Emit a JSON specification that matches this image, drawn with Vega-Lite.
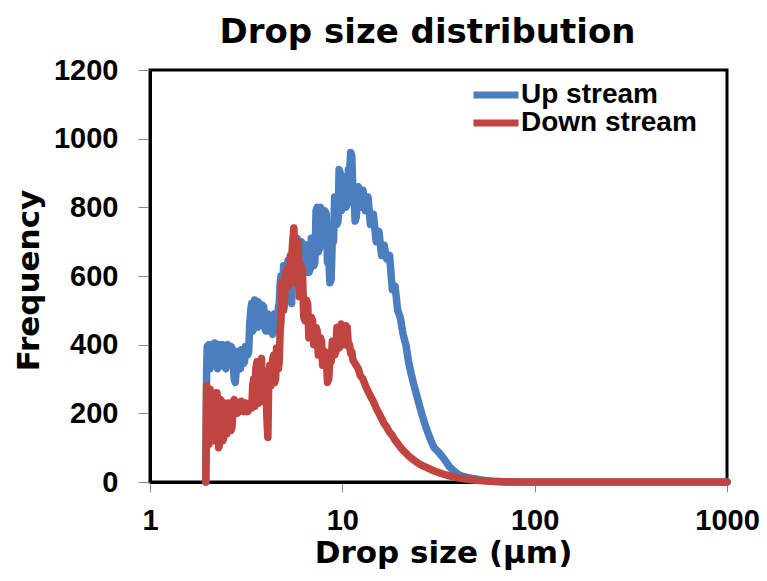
{
  "$schema": "https://vega.github.io/schema/vega-lite/v6.json",
  "width": 577,
  "height": 412,
  "autosize": {"type": "none"},
  "padding": {"left": 150, "top": 70, "right": 40, "bottom": 99},
  "background": "white",
  "config": {
    "view": {"stroke": "black", "strokeWidth": 3},
    "axis": {"grid": false}
  },
  "title": {
    "text": "Drop size distribution",
    "font": "DejaVu Sans",
    "fontWeight": "bold",
    "fontSize": 34,
    "color": "black",
    "anchor": "middle",
    "dx": -11,
    "offset": 6
  },
  "data": {
    "values": [
      {"x": 1.95, "up": 0, "down": 0},
      {"x": 1.97, "up": 330, "down": 280},
      {"x": 1.985, "up": 395, "down": 170},
      {"x": 2.0, "up": 360, "down": 260},
      {"x": 2.025, "up": 400, "down": 110},
      {"x": 2.05, "up": 330, "down": 270},
      {"x": 2.075, "up": 390, "down": 150},
      {"x": 2.1, "up": 400, "down": 120},
      {"x": 2.125, "up": 340, "down": 260},
      {"x": 2.15, "up": 350, "down": 250},
      {"x": 2.175, "up": 405, "down": 120},
      {"x": 2.2, "up": 395, "down": 150},
      {"x": 2.225, "up": 340, "down": 260},
      {"x": 2.25, "up": 330, "down": 240},
      {"x": 2.275, "up": 395, "down": 100},
      {"x": 2.3, "up": 400, "down": 110},
      {"x": 2.33, "up": 345, "down": 240},
      {"x": 2.36, "up": 340, "down": 230},
      {"x": 2.39, "up": 400, "down": 120},
      {"x": 2.42, "up": 395, "down": 130},
      {"x": 2.45, "up": 335, "down": 230},
      {"x": 2.48, "up": 330, "down": 220},
      {"x": 2.51, "up": 395, "down": 140},
      {"x": 2.54, "up": 400, "down": 150},
      {"x": 2.57, "up": 345, "down": 230},
      {"x": 2.6, "up": 350, "down": 210},
      {"x": 2.635, "up": 395, "down": 150},
      {"x": 2.67, "up": 390, "down": 160},
      {"x": 2.705, "up": 350, "down": 230},
      {"x": 2.74, "up": 300, "down": 240},
      {"x": 2.775, "up": 290, "down": 205},
      {"x": 2.81, "up": 330, "down": 215},
      {"x": 2.845, "up": 380, "down": 200},
      {"x": 2.88, "up": 370, "down": 230},
      {"x": 2.915, "up": 340, "down": 205},
      {"x": 2.95, "up": 330, "down": 210},
      {"x": 2.985, "up": 385, "down": 235},
      {"x": 3.02, "up": 380, "down": 230},
      {"x": 3.06, "up": 345, "down": 205},
      {"x": 3.1, "up": 350, "down": 215},
      {"x": 3.14, "up": 395, "down": 230},
      {"x": 3.18, "up": 390, "down": 225},
      {"x": 3.22, "up": 370, "down": 205},
      {"x": 3.26, "up": 380, "down": 210},
      {"x": 3.3, "up": 460, "down": 225},
      {"x": 3.34, "up": 500, "down": 230},
      {"x": 3.38, "up": 520, "down": 215},
      {"x": 3.42, "up": 440, "down": 280},
      {"x": 3.46, "up": 510, "down": 300},
      {"x": 3.5, "up": 530, "down": 220},
      {"x": 3.55, "up": 470, "down": 330},
      {"x": 3.6, "up": 450, "down": 350},
      {"x": 3.65, "up": 525, "down": 240},
      {"x": 3.7, "up": 520, "down": 230},
      {"x": 3.75, "up": 455, "down": 350},
      {"x": 3.8, "up": 460, "down": 360},
      {"x": 3.85, "up": 515, "down": 240},
      {"x": 3.9, "up": 510, "down": 250},
      {"x": 3.95, "up": 450, "down": 320},
      {"x": 4.0, "up": 440, "down": 300},
      {"x": 4.05, "up": 480, "down": 190},
      {"x": 4.1, "up": 490, "down": 130},
      {"x": 4.15, "up": 440, "down": 320},
      {"x": 4.2, "up": 450, "down": 340},
      {"x": 4.25, "up": 480, "down": 280},
      {"x": 4.3, "up": 470, "down": 290},
      {"x": 4.35, "up": 430, "down": 360},
      {"x": 4.4, "up": 440, "down": 370},
      {"x": 4.45, "up": 490, "down": 290},
      {"x": 4.5, "up": 480, "down": 300},
      {"x": 4.55, "up": 440, "down": 390},
      {"x": 4.6, "up": 450, "down": 380},
      {"x": 4.65, "up": 510, "down": 330},
      {"x": 4.7, "up": 520, "down": 350},
      {"x": 4.75, "up": 580, "down": 440},
      {"x": 4.8, "up": 600, "down": 470},
      {"x": 4.85, "up": 550, "down": 580},
      {"x": 4.9, "up": 560, "down": 560},
      {"x": 4.95, "up": 630, "down": 500},
      {"x": 5.0, "up": 620, "down": 520},
      {"x": 5.07, "up": 555, "down": 610},
      {"x": 5.15, "up": 560, "down": 620},
      {"x": 5.22, "up": 645, "down": 570},
      {"x": 5.3, "up": 640, "down": 580},
      {"x": 5.37, "up": 530, "down": 660},
      {"x": 5.45, "up": 520, "down": 650},
      {"x": 5.52, "up": 650, "down": 700},
      {"x": 5.6, "up": 640, "down": 740},
      {"x": 5.67, "up": 590, "down": 600},
      {"x": 5.75, "up": 600, "down": 580},
      {"x": 5.82, "up": 710, "down": 690},
      {"x": 5.9, "up": 700, "down": 700},
      {"x": 5.97, "up": 620, "down": 540},
      {"x": 6.05, "up": 630, "down": 550},
      {"x": 6.12, "up": 700, "down": 630},
      {"x": 6.2, "up": 690, "down": 620},
      {"x": 6.3, "up": 610, "down": 480},
      {"x": 6.4, "up": 620, "down": 470},
      {"x": 6.5, "up": 690, "down": 530},
      {"x": 6.6, "up": 680, "down": 520},
      {"x": 6.7, "up": 610, "down": 420},
      {"x": 6.8, "up": 620, "down": 430},
      {"x": 6.9, "up": 710, "down": 480},
      {"x": 7.0, "up": 700, "down": 470},
      {"x": 7.1, "up": 630, "down": 400},
      {"x": 7.2, "up": 640, "down": 410},
      {"x": 7.3, "up": 790, "down": 450},
      {"x": 7.4, "up": 800, "down": 440},
      {"x": 7.5, "up": 670, "down": 370},
      {"x": 7.6, "up": 680, "down": 380},
      {"x": 7.7, "up": 800, "down": 420},
      {"x": 7.8, "up": 790, "down": 410},
      {"x": 7.9, "up": 690, "down": 340},
      {"x": 8.0, "up": 700, "down": 350},
      {"x": 8.12, "up": 790, "down": 380},
      {"x": 8.25, "up": 780, "down": 370},
      {"x": 8.37, "up": 640, "down": 290},
      {"x": 8.5, "up": 650, "down": 300},
      {"x": 8.62, "up": 580, "down": 360},
      {"x": 8.75, "up": 590, "down": 350},
      {"x": 8.87, "up": 710, "down": 410},
      {"x": 9.0, "up": 700, "down": 400},
      {"x": 9.12, "up": 830, "down": 370},
      {"x": 9.25, "up": 820, "down": 380},
      {"x": 9.37, "up": 750, "down": 450},
      {"x": 9.5, "up": 760, "down": 440},
      {"x": 9.62, "up": 910, "down": 390},
      {"x": 9.75, "up": 900, "down": 400},
      {"x": 9.87, "up": 790, "down": 460},
      {"x": 10.0, "up": 800, "down": 450},
      {"x": 10.15, "up": 890, "down": 400},
      {"x": 10.3, "up": 880, "down": 410},
      {"x": 10.45, "up": 800, "down": 455},
      {"x": 10.6, "up": 810, "down": 450},
      {"x": 10.75, "up": 910, "down": 395},
      {"x": 10.9, "up": 900, "down": 400},
      {"x": 11.05, "up": 960, "down": 375},
      {"x": 11.2, "up": 950, "down": 380},
      {"x": 11.35, "up": 840, "down": 355},
      {"x": 11.5, "up": 850, "down": 350},
      {"x": 11.65, "up": 760, "down": 345},
      {"x": 11.8, "up": 770, "down": 340},
      {"x": 12.1, "up": 860, "down": 330},
      {"x": 12.4, "up": 800, "down": 310},
      {"x": 12.8, "up": 850, "down": 300},
      {"x": 13.2, "up": 790, "down": 280},
      {"x": 13.6, "up": 830, "down": 265},
      {"x": 14.0, "up": 750, "down": 250},
      {"x": 14.5, "up": 780, "down": 235},
      {"x": 15.0, "up": 700, "down": 215},
      {"x": 15.5, "up": 730, "down": 200},
      {"x": 16.0, "up": 660, "down": 185},
      {"x": 16.5, "up": 690, "down": 170},
      {"x": 17.0, "up": 650, "down": 160},
      {"x": 17.6, "up": 660, "down": 145},
      {"x": 18.2, "up": 560, "down": 135},
      {"x": 18.8, "up": 570, "down": 122},
      {"x": 19.4, "up": 500, "down": 112},
      {"x": 20.0, "up": 480, "down": 102},
      {"x": 20.7, "up": 430, "down": 92},
      {"x": 21.4, "up": 400, "down": 84},
      {"x": 22.1, "up": 350, "down": 76},
      {"x": 22.8, "up": 315, "down": 70},
      {"x": 23.5, "up": 285, "down": 64},
      {"x": 24.3, "up": 255, "down": 58},
      {"x": 25.1, "up": 225, "down": 53},
      {"x": 26.0, "up": 195, "down": 48},
      {"x": 27.0, "up": 165, "down": 44},
      {"x": 28.0, "up": 140, "down": 40},
      {"x": 29.0, "up": 118, "down": 36},
      {"x": 30.0, "up": 100, "down": 32},
      {"x": 31.5, "up": 88, "down": 28},
      {"x": 33.0, "up": 75, "down": 24},
      {"x": 34.5, "up": 60, "down": 21},
      {"x": 36.0, "up": 45, "down": 18},
      {"x": 38.0, "up": 32, "down": 15},
      {"x": 40.0, "up": 22, "down": 12},
      {"x": 42.0, "up": 17, "down": 10},
      {"x": 45.0, "up": 13, "down": 8},
      {"x": 48.0, "up": 10, "down": 6},
      {"x": 52.0, "up": 7, "down": 4},
      {"x": 56.0, "up": 4, "down": 3},
      {"x": 60.0, "up": 2, "down": 2},
      {"x": 70, "up": 0, "down": 1},
      {"x": 80, "up": 0, "down": 0},
      {"x": 100, "up": 0, "down": 0},
      {"x": 200, "up": 0, "down": 0},
      {"x": 500, "up": 0, "down": 0},
      {"x": 1000, "up": 0, "down": 0}
    ]
  },
  "transform": [
    {"fold": ["up", "down"], "as": ["key", "freq"]},
    {"calculate": "datum.key === 'up' ? 'Up stream' : 'Down stream'", "as": "series"}
  ],
  "encoding": {
    "x": {
      "field": "x",
      "type": "quantitative",
      "scale": {"type": "log", "domain": [1, 1000]},
      "axis": {
        "values": [1, 10, 100, 1000],
        "format": "d",
        "title": "Drop size (μm)",
        "titleFont": "DejaVu Sans",
        "titleFontWeight": "bold",
        "titleFontSize": 31,
        "titleColor": "black",
        "titleX": 293,
        "titleY": 80,
        "titleBaseline": "alphabetic",
        "titleAnchor": "middle",
        "labelFont": "Liberation Sans",
        "labelFontWeight": "bold",
        "labelFontSize": 29,
        "labelColor": "black",
        "labelPadding": 14,
        "labelFlush": false,
        "tickSize": 10,
        "tickColor": "#888888",
        "tickWidth": 1,
        "domainColor": "black",
        "domainWidth": 3
      }
    },
    "y": {
      "field": "freq",
      "type": "quantitative",
      "scale": {"domain": [0, 1200]},
      "axis": {
        "values": [0, 200, 400, 600, 800, 1000, 1200],
        "format": "d",
        "title": "Frequency",
        "titleFont": "DejaVu Sans",
        "titleFontWeight": "bold",
        "titleFontSize": 31,
        "titleColor": "black",
        "titleX": -121,
        "titleY": 210,
        "titleBaseline": "middle",
        "titleAnchor": "middle",
        "labelFont": "Liberation Sans",
        "labelFontWeight": "bold",
        "labelFontSize": 29,
        "labelColor": "black",
        "labelPadding": 20,
        "tickSize": 12,
        "tickColor": "#888888",
        "tickWidth": 1,
        "domainColor": "black",
        "domainWidth": 3
      }
    },
    "color": {
      "field": "series",
      "type": "nominal",
      "scale": {"domain": ["Up stream", "Down stream"], "range": ["#4A7EBF", "#C0443F"]},
      "legend": {
        "title": null,
        "orient": "none",
        "legendX": 332,
        "legendY": 11,
        "symbolType": "M-3,0H3",
        "symbolSize": 225,
        "symbolStrokeWidth": 7,
        "labelFont": "Liberation Sans",
        "labelFontWeight": "bold",
        "labelFontSize": 28,
        "labelColor": "black",
        "labelOffset": 11,
        "rowPadding": 0,
        "labelLimit": 400
      }
    }
  },
  "layer": [
    {
      "transform": [{"filter": "datum.key === 'up'"}],
      "mark": {"type": "line", "strokeWidth": 7.5, "strokeJoin": "round", "strokeCap": "round"}
    },
    {
      "transform": [{"filter": "datum.key === 'down'"}],
      "mark": {"type": "line", "strokeWidth": 7.5, "strokeJoin": "round", "strokeCap": "round"}
    }
  ]
}
